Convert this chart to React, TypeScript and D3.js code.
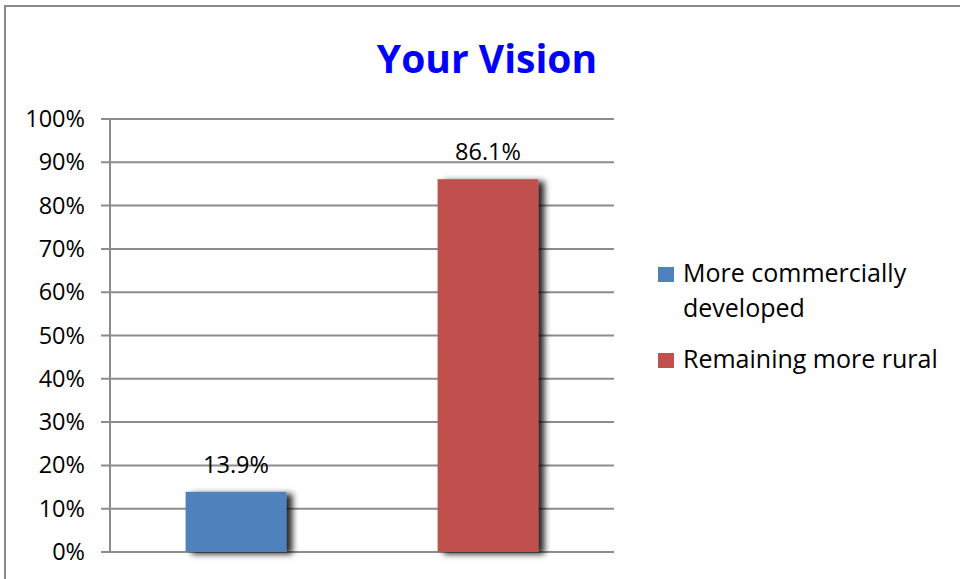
import React from "react";
import * as d3 from "d3";

const categories = ["More commercially developed", "Remaining more rural"];
const values = [0.139, 0.861];
const labels = ["13.9%", "86.1%"];
const colors = ["#4F81BD", "#C0504D"];
const yTicks = [0, 0.1, 0.2, 0.3, 0.4, 0.5, 0.6, 0.7, 0.8, 0.9, 1.0];
const legendLines = [["More commercially", "developed"], ["Remaining more rural"]];

const W = 960;
const H = 579;
const FONT = "'Open Sans', sans-serif";

export default function App() {
  const left = 110, right = 614, top = 119, bottom = 552;
  const x = d3.scaleBand<number>().domain(d3.range(categories.length)).range([left, right]).paddingInner(0.6).paddingOuter(0.3);
  const y = d3.scaleLinear().domain([0, 1]).range([bottom, top]);
  const fmt = d3.format(".0%");

  return (
    <svg width={W} height={H} style={{ position: "absolute", left: 0, top: 0, background: "#fff" }} fontFamily={FONT}>
      <defs>
        <filter id="shadow" x="-20%" y="-20%" width="160%" height="140%">
          <feDropShadow dx="6" dy="2" stdDeviation="3" floodColor="#000" floodOpacity="0.85" />
        </filter>
      </defs>
      <rect x={0} y={0} width={W} height={H} fill="#fff" />
      <rect x={5} y={6} width={W + 10} height={H + 10} fill="none" stroke="#8a8a8a" strokeWidth={2} />
      <text x={487} y={73} textAnchor="middle" fontSize={39} fontWeight="bold" fill="#0000FF">Your Vision</text>
      {yTicks.map((t) => (
        <g key={t}>
          <line x1={left - 9} x2={right} y1={y(t)} y2={y(t)} stroke="#8c8c8c" strokeWidth={2} />
          <text x={85} y={y(t) + 8} textAnchor="end" fontSize={23.5} fill="#000">{fmt(t)}</text>
        </g>
      ))}
      <line x1={left} x2={left} y1={top} y2={bottom} stroke="#8c8c8c" strokeWidth={2} />
      {values.map((v, i) => (
        <g key={i}>
          <rect x={x(i)} y={y(v)} width={x.bandwidth()} height={bottom - y(v)} fill={colors[i]} filter="url(#shadow)" />
          <text x={(x(i) as number) + x.bandwidth() / 2} y={y(v) - 19} textAnchor="middle" fontSize={23.5} fill="#000">{labels[i]}</text>
        </g>
      ))}
      {legendLines.map((lines, i) => {
        const baseY = i === 0 ? 282 : 368;
        return (
          <g key={i}>
            <rect x={658} y={baseY - 15} width={16} height={15} fill={colors[i]} />
            {lines.map((ln, j) => (
              <text key={j} x={683} y={baseY + j * 35} fontSize={25} fill="#000">{ln}</text>
            ))}
          </g>
        );
      })}
    </svg>
  );
}
